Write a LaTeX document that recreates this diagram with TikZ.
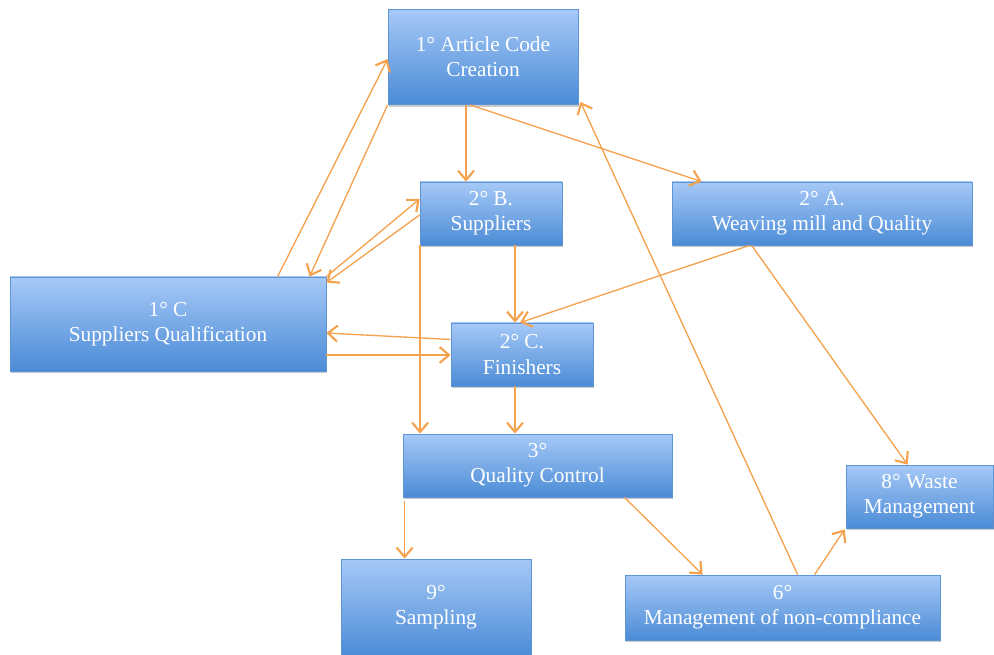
\documentclass[tikz,border=0pt]{standalone}
\usepackage{fontspec}
\setmainfont{Liberation Serif}
\usetikzlibrary{arrows.meta,calc,shadows}

\definecolor{boxTop}{HTML}{A6C9F7}
\definecolor{boxBot}{HTML}{4B8BD6}
\definecolor{boxLine}{HTML}{5E93D4}
\definecolor{flow}{HTML}{F5A24E}

\tikzset{
  stagebox/.style={
    draw=boxLine, line width=0.6pt,
    top color=boxTop, bottom color=boxBot,
    drop shadow={shadow xshift=1pt, shadow yshift=-1.8pt, opacity=0.35, fill=black!60},
    text=white, align=center, inner sep=0pt,
    font=\fontsize{16}{19}\selectfont
  },
  flowline/.style={
    draw=flow, line width=1pt,
    -{Straight Barb[length=7pt,width=12pt,line width=1.6pt]}
  }
}

\begin{document}
\begin{tikzpicture}[x=0.75pt,y=-0.75pt]
  \useasboundingbox (0,0) rectangle (994,655);

  % stages
  \node[stagebox, minimum width=190*0.75pt, minimum height=95*0.75pt] (art) at (483,57) {1° Article Code\\Creation};
  \node[stagebox, minimum width=142*0.75pt, minimum height=63*0.75pt] (supB) at (491,213.5) {2° B.\\Suppliers};
  \node[stagebox, minimum width=300*0.75pt, minimum height=63*0.75pt] (weave) at (822,213.5) {2° A.\\Weaving mill and Quality};
  \node[stagebox, minimum width=316*0.75pt, minimum height=94*0.75pt] (qual) at (168,324) {1° C\\Suppliers Qualification};
  \node[stagebox, minimum width=142*0.75pt, minimum height=63*0.75pt] (fin) at (522,354.5) {2° C.\\Finishers};
  \node[stagebox, minimum width=269*0.75pt, minimum height=63*0.75pt] (qc) at (537.5,465.5) {3°\\Quality Control};
  \node[stagebox, minimum width=147*0.75pt, minimum height=63*0.75pt] (waste) at (919.5,496.5) {8° Waste\\Management};
  \node[stagebox, minimum width=190*0.75pt, minimum height=97*0.75pt] (samp) at (436,607.5) {9°\\Sampling};
  \node[stagebox, minimum width=315*0.75pt, minimum height=65*0.75pt] (nc) at (782.5,607.5) {6°\\Management of non-compliance};

  % connectors
  \draw[flowline] ($(qual.north west)+(268,0)$) -- ($(art.north west)+(0,50)$);
  \draw[flowline] (art.south west) -- ($(qual.north west)+(300,0)$);
  \draw[flowline] (qual.north east) -- ($(supB.west)+(0,-14.5)$);
  \draw[flowline] ($(supB.west)+(0,1.5)$) -- ($(qual.north east)+(0,6)$);
  \draw[flowline] ($(fin.west)+(0,-15)$) -- ($(qual.east)+(0,9)$);
  \draw[flowline] ($(qual.east)+(0,31)$) -- ($(fin.west)+(0,0.5)$);
  \draw[flowline] ($(art.south)+(-17,0)$) -- ($(supB.north)+(-25,0)$);
  \draw[flowline] ($(art.south)+(-13,0)$) -- ($(weave.north west)+(30,0)$);
  \draw[flowline] ($(supB.south)+(24,0)$) -- ($(fin.north)+(-7,0)$);
  \draw[flowline] ($(weave.south west)+(78,0)$) -- ($(fin.north)+(-2,0)$);
  \draw[flowline] ($(supB.south west)+(0.5,0)$) -- ($(qc.north west)+(17.5,0)$);
  \draw[flowline] ($(fin.south)+(-7,0)$) -- ($(qc.north)+(-22.5,0)$);
  \draw[flowline] ($(qc.south west)+(2,4)$) -- ($(samp.north west)+(64,0)$);
  \draw[flowline] ($(qc.south)+(87,0)$) -- ($(nc.north west)+(78,0)$);
  \draw[flowline] ($(nc.north west)+(173,0)$) -- ($(art.south east)+(2,-3)$);
  \draw[flowline] ($(nc.north west)+(190,0)$) -- ($(waste.south west)+(-1,1)$);
  \draw[flowline] ($(weave.south west)+(80,0)$) -- ($(waste.north west)+(62,0)$);
\end{tikzpicture}
\end{document}
